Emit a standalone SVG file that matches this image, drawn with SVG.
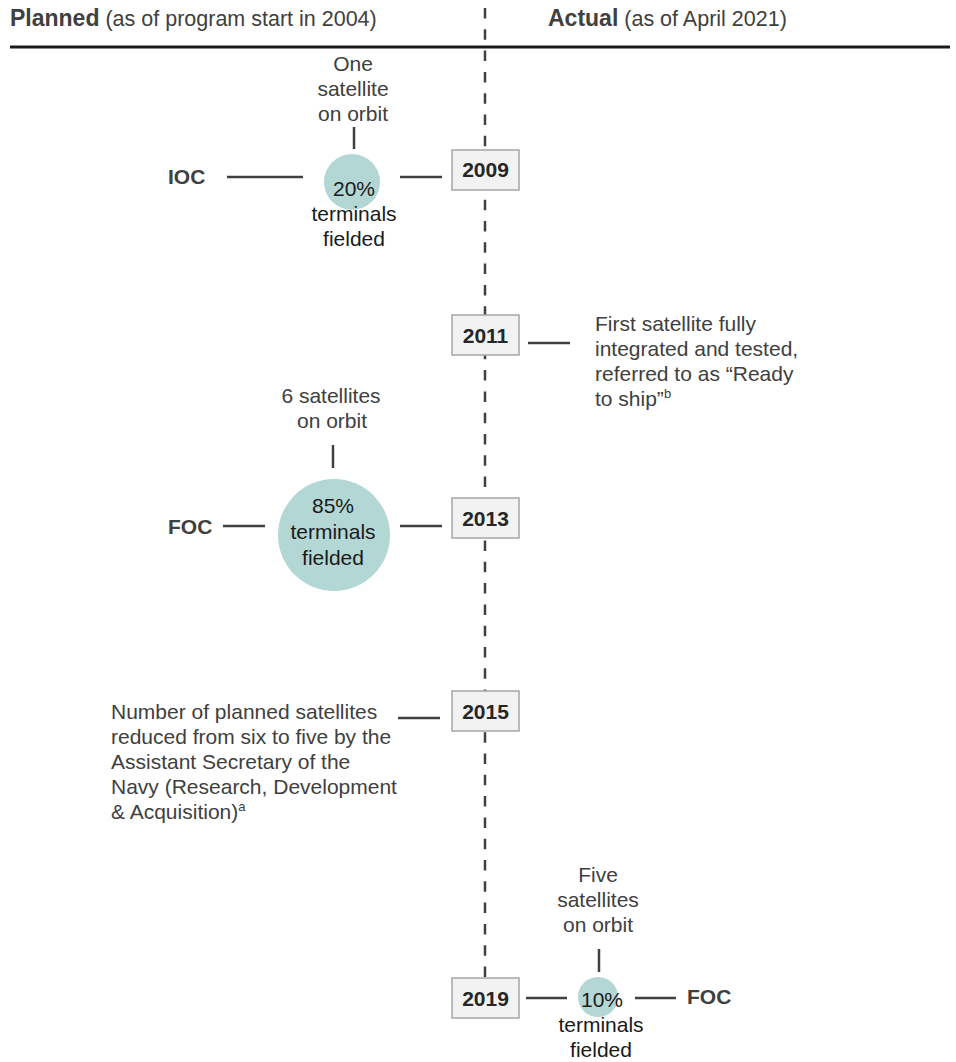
<svg xmlns="http://www.w3.org/2000/svg" width="956" height="1062" viewBox="0 0 956 1062">
<style>
  text { font-family: "Liberation Sans", Arial, sans-serif; }
  .hb { font-size: 23px; font-weight: bold; fill: #404040; }
  .hr { font-size: 21.5px; fill: #404040; }
  .lbl { font-size: 21px; fill: #404040; }
  .dark { font-size: 21px; fill: #1a1a1a; text-anchor: middle; }
  .mid { text-anchor: middle; }
  .bold { font-size: 21px; font-weight: bold; fill: #404040; }
  .yr { font-size: 21px; font-weight: bold; fill: #262626; text-anchor: middle; }
  .box { fill: #f2f2f2; stroke: #a6a6a6; stroke-width: 1.5; }
  .circ { fill: #b3d7d4; }
  .conn { stroke: #404040; stroke-width: 2.5; fill: none; }
  .sup { font-size: 13px; }
</style>

<g id="header">
  <text x="10" y="26"><tspan class="hb">Planned</tspan><tspan class="hr"> (as of program start in 2004)</tspan></text>
  <text x="548" y="26"><tspan class="hb">Actual</tspan><tspan class="hr"> (as of April 2021)</tspan></text>
  <line x1="10" y1="47" x2="950" y2="47" stroke="#1a1a1a" stroke-width="3"/>
</g>

<g id="connectors">
  <line x1="485" y1="8" x2="485" y2="978" stroke="#404040" stroke-width="2.5" stroke-dasharray="10.5 10.8"/>
  <!-- 2009 -->
  <line class="conn" x1="227" y1="177" x2="303" y2="177"/>
  <line class="conn" x1="400" y1="177" x2="442" y2="177"/>
  <line class="conn" x1="354" y1="127" x2="354" y2="149"/>
  <!-- 2011 -->
  <line class="conn" x1="528" y1="343" x2="570" y2="343"/>
  <!-- 2013 -->
  <line class="conn" x1="223" y1="526" x2="265" y2="526"/>
  <line class="conn" x1="400" y1="526" x2="442" y2="526"/>
  <line class="conn" x1="333" y1="445" x2="333" y2="468"/>
  <!-- 2015 -->
  <line class="conn" x1="398" y1="718" x2="440" y2="718"/>
  <!-- 2019 -->
  <line class="conn" x1="526" y1="998" x2="567" y2="998"/>
  <line class="conn" x1="635" y1="998" x2="676" y2="998"/>
  <line class="conn" x1="599" y1="949" x2="599" y2="972"/>
</g>

<g id="year-2009">
  <rect class="box" x="452" y="150" width="67" height="40"/>
  <text class="yr" x="485.5" y="177">2009</text>
</g>
<g id="ioc-2009">
  <text class="bold" x="168" y="184">IOC</text>
</g>
<g id="planned-2009">
  <text class="lbl mid" x="353" y="71">One</text>
  <text class="lbl mid" x="353" y="96">satellite</text>
  <text class="lbl mid" x="353" y="121">on orbit</text>
  <circle class="circ" cx="352" cy="182" r="28"/>
  <text class="dark" x="354" y="196">20%</text>
  <text class="dark" x="354" y="221">terminals</text>
  <text class="dark" x="354" y="246">fielded</text>
</g>

<g id="year-2011">
  <rect class="box" x="452" y="315" width="67" height="40"/>
  <text class="yr" x="485.5" y="343">2011</text>
</g>
<g id="actual-2011">
  <text class="lbl" x="595" y="331">First satellite fully</text>
  <text class="lbl" x="595" y="356">integrated and tested,</text>
  <text class="lbl" x="595" y="381">referred to as “Ready</text>
  <text class="lbl" x="595" y="406">to ship”<tspan class="sup" dy="-8">b</tspan></text>
</g>

<g id="year-2013">
  <rect class="box" x="452" y="498" width="67" height="40"/>
  <text class="yr" x="485.5" y="526">2013</text>
</g>
<g id="foc-2013">
  <text class="bold" x="168" y="534">FOC</text>
</g>
<g id="planned-2013">
  <text class="lbl mid" x="331" y="403">6 satellites</text>
  <text class="lbl mid" x="332" y="428">on orbit</text>
  <circle class="circ" cx="334" cy="535" r="56"/>
  <text class="dark" x="333" y="513">85%</text>
  <text class="dark" x="333" y="539">terminals</text>
  <text class="dark" x="333" y="565">fielded</text>
</g>

<g id="year-2015">
  <rect class="box" x="452" y="691" width="67" height="40"/>
  <text class="yr" x="485.5" y="719">2015</text>
</g>
<g id="planned-2015">
  <text class="lbl" x="111" y="719">Number of planned satellites</text>
  <text class="lbl" x="111" y="744">reduced from six to five by the</text>
  <text class="lbl" x="111" y="769">Assistant Secretary of the</text>
  <text class="lbl" x="111" y="794">Navy (Research, Development</text>
  <text class="lbl" x="111" y="819">&amp; Acquisition)<tspan class="sup" dy="-8">a</tspan></text>
</g>

<g id="year-2019">
  <rect class="box" x="452" y="978" width="67" height="40"/>
  <text class="yr" x="485.5" y="1006">2019</text>
</g>
<g id="actual-2019">
  <text class="lbl mid" x="598" y="882">Five</text>
  <text class="lbl mid" x="598" y="907">satellites</text>
  <text class="lbl mid" x="598" y="932">on orbit</text>
  <circle class="circ" cx="598" cy="997" r="20"/>
  <text class="dark" x="602" y="1007">10%</text>
  <text class="dark" x="601" y="1032">terminals</text>
  <text class="dark" x="601" y="1057">fielded</text>
</g>
<g id="foc-2019">
  <text class="bold" x="687" y="1004">FOC</text>
</g>
</svg>
